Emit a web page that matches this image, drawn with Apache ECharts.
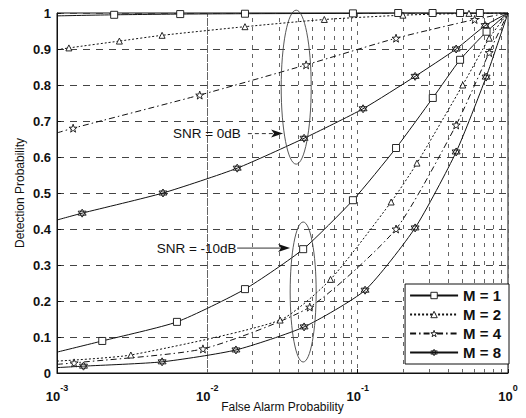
<!DOCTYPE html>
<html><head><meta charset="utf-8">
<script src="https://cdn.jsdelivr.net/npm/echarts@6/dist/echarts.min.js"></script>
<style>html,body{margin:0;padding:0;background:#fff}#c{width:526px;height:418px}</style>
</head><body><div id="c"></div>
<script>
// ---- data ----
const xTickValues = [0.001, 0.01, 0.1, 1];
const minorGridX = [0.002,0.003,0.004,0.005,0.006,0.007,0.008,0.009,
                    0.02,0.03,0.04,0.05,0.06,0.07,0.08,0.09,
                    0.2,0.3,0.4,0.5,0.6,0.7,0.8,0.9];
const legendNames = ['M = 1', 'M = 2', 'M = 4', 'M = 8'];

// SNR = 0 dB
const m1_0dB_x = [0.001, 0.0024, 0.0066, 0.0178, 0.093, 0.186, 0.315, 0.48, 0.65, 1];
const m1_0dB_y = [0.992, 0.995, 0.997, 0.998, 0.999, 1, 1, 1, 1, 1];
const m2_0dB_x = [0.001, 0.0012, 0.0026, 0.005, 0.0178, 0.06, 0.2, 0.55, 1];
const m2_0dB_y = [0.898, 0.903, 0.922, 0.938, 0.962, 0.982, 0.994, 0.999, 1];
const m4_0dB_x = [0.001, 0.00128, 0.0089, 0.0454, 0.18, 0.6, 1];
const m4_0dB_y = [0.667, 0.68, 0.772, 0.856, 0.93, 0.982, 1];
const m8_0dB_x = [0.001, 0.00147, 0.00507, 0.0158, 0.044, 0.1086, 0.241, 0.452, 0.705, 1];
const m8_0dB_y = [0.425, 0.444, 0.5, 0.569, 0.652, 0.734, 0.824, 0.9, 0.965, 1];

// SNR = -10 dB
const m1_10dB_x = [0.001, 0.002, 0.00628, 0.0178, 0.0434, 0.093, 0.18, 0.316, 0.48, 0.72, 1];
const m1_10dB_y = [0.058, 0.089, 0.142, 0.233, 0.344, 0.48, 0.625, 0.764, 0.87, 0.948, 1];
const m2_10dB_x = [0.001, 0.0031, 0.0305, 0.066, 0.167, 0.248, 0.5, 0.75, 1];
const m2_10dB_y = [0.033, 0.05, 0.147, 0.26, 0.475, 0.583, 0.8, 0.93, 1];
const m4_10dB_x = [0.001, 0.0013, 0.00935, 0.048, 0.18, 0.452, 0.75, 1];
const m4_10dB_y = [0.024, 0.028, 0.067, 0.183, 0.4, 0.689, 0.89, 1];
const m8_10dB_x = [0.001, 0.0015, 0.005, 0.0155, 0.044, 0.112, 0.241, 0.452, 0.715, 1];
const m8_10dB_y = [0.015, 0.019, 0.031, 0.064, 0.128, 0.23, 0.403, 0.614, 0.822, 1];

// annotations (data coordinates)
const ann0dB = {label: 'SNR = 0dB', text: [0.0059, 0.665], arrowFrom: [0.0186, 0.665], arrowTo: [0.0319, 0.665],
                ellipse: [0.039, 0.794], rx: 15, ry: 77};
const ann10dB = {label: 'SNR = -10dB', text: [0.0046, 0.347], arrowFrom: [0.0158, 0.347], arrowTo: [0.0355, 0.347],
                 ellipse: [0.0434, 0.225], rx: 13, ry: 70};

// ---- chart ----
const hexagram = 'path://M0,-10L8.66,5L-8.66,5Z M0,10L8.66,-5L-8.66,-5Z';
const pentagram = 'path://M0,-10L2.35,-3.24L9.51,-3.09L3.8,1.24L5.88,8.09L0,4L-5.88,8.09L-3.8,1.24L-9.51,-3.09L-2.35,-3.24Z';
const styles = {
  'M = 1': {symbol: 'rect', size: 7, type: 'solid'},
  'M = 2': {symbol: 'triangle', size: 6, type: [2, 2]},
  'M = 4': {symbol: pentagram, size: 8, type: [6, 3, 1.5, 3]},
  'M = 8': {symbol: hexagram, size: 8, type: 'solid'}
};
function mk(name, xs, ys) {
  const st = styles[name];
  return {
    name, type: 'line', smooth: 0.2,
    symbol: st.symbol, symbolSize: st.size, showAllSymbol: true,
    lineStyle: {color: '#111', width: 1, type: st.type},
    itemStyle: {color: '#fff', borderColor: '#111', borderWidth: 0.9},
    data: xs.map((x, i) => (i === 0 || i === xs.length - 1)
      ? {value: [x, ys[i]], symbol: 'none'} : [x, ys[i]]),
    z: 3
  };
}

const chart = echarts.init(document.getElementById('c'), null, {renderer: 'svg'});
const option = {
  backgroundColor: '#fff',
  animation: false,
  textStyle: {fontFamily: 'Liberation Sans, Arial, sans-serif'},
  grid: {left: 57, right: 18, top: 13, bottom: 45, outerBoundsMode: 'none', containLabel: false,
         show: true, borderColor: '#111', borderWidth: 1, backgroundColor: 'transparent'},
  xAxis: {
    type: 'log', logBase: 10, min: 0.001, max: 1,
    name: 'False Alarm Probability', nameLocation: 'middle', nameGap: 28, nameMoveOverlap: false,
    nameTextStyle: {fontSize: 12, color: '#111'},
    axisLine: {lineStyle: {color: '#111'}},
    axisTick: {inside: true, length: 4, lineStyle: {color: '#111'}},
    splitLine: {show: true, lineStyle: {color: '#666', type: [4, 5], width: 1}},
    axisLabel: {
      margin: 10,
      formatter: v => '{b|10}{s|' + Math.round(Math.log10(v)) + '}',
      rich: {
        b: {fontSize: 13, fontWeight: 'bold', color: '#111', verticalAlign: 'bottom', lineHeight: 20},
        s: {fontSize: 9, fontWeight: 'bold', color: '#111', verticalAlign: 'top', lineHeight: 20}
      }
    }
  },
  yAxis: {
    type: 'value', min: 0, max: 1, interval: 0.1,
    name: 'Detection Probability', nameLocation: 'middle', nameGap: 31, nameMoveOverlap: false,
    nameTextStyle: {fontSize: 12, color: '#111'},
    axisLine: {show: true, lineStyle: {color: '#111'}},
    axisTick: {show: true, inside: true, length: 4, lineStyle: {color: '#111'}},
    splitLine: {show: true, lineStyle: {color: '#444', type: [7, 6], width: 1}},
    axisLabel: {fontSize: 13, fontWeight: 'bold', color: '#111', margin: 6,
      formatter: v => (v === 0 ? '0' : v === 1 ? '1' : v.toFixed(1))}
  },
  legend: {
    data: legendNames, orient: 'vertical', right: 17, bottom: 54, z: 20,
    itemWidth: 48, itemHeight: 8, itemGap: 4,
    backgroundColor: '#fff', borderColor: '#111', borderWidth: 1,
    padding: [4, 8, 4, 4],
    itemStyle: {color: '#fff', borderColor: '#111', borderWidth: 0.9},
    textStyle: {fontSize: 15, fontWeight: 'bold', color: '#111'}
  },
  series: [
    mk('M = 1', m1_0dB_x, m1_0dB_y),
    mk('M = 2', m2_0dB_x, m2_0dB_y),
    mk('M = 4', m4_0dB_x, m4_0dB_y),
    mk('M = 8', m8_0dB_x, m8_0dB_y),
    mk('M = 1', m1_10dB_x, m1_10dB_y),
    mk('M = 2', m2_10dB_x, m2_10dB_y),
    mk('M = 4', m4_10dB_x, m4_10dB_y),
    mk('M = 8', m8_10dB_x, m8_10dB_y),
    {
      name: 'minorGrid', type: 'line', data: [], silent: true, z: 1,
      markLine: {
        silent: true, symbol: 'none', label: {show: false}, z: 1,
        lineStyle: {color: '#666', type: [4, 5], width: 1},
        data: minorGridX.map(x => ({xAxis: x}))
      }
    }
  ]
};
chart.setOption(option);

function annot(a) {
  const t = chart.convertToPixel({gridIndex: 0}, a.text);
  const f = chart.convertToPixel({gridIndex: 0}, a.arrowFrom);
  const to = chart.convertToPixel({gridIndex: 0}, a.arrowTo);
  const e = chart.convertToPixel({gridIndex: 0}, a.ellipse);
  return [
    {type: 'ellipse', shape: {cx: e[0], cy: e[1], rx: a.rx, ry: a.ry},
     style: {fill: 'none', stroke: '#444', lineWidth: 0.9}, z: 10},
    {type: 'text', x: t[0], y: t[1], style: {text: a.label, font: '13.5px Liberation Sans, Arial, sans-serif', fill: '#111', verticalAlign: 'middle'}, z: 11},
    {type: 'line', shape: {x1: f[0], y1: f[1], x2: to[0] - 8, y2: to[1]},
     style: {stroke: '#333', lineWidth: 1, lineDash: a.label === 'SNR = 0dB' ? [4, 3] : null}, z: 11},
    {type: 'polygon', shape: {points: [[to[0], to[1]], [to[0] - 12, to[1] - 4], [to[0] - 9, to[1]], [to[0] - 12, to[1] + 4]]},
     style: {fill: '#111'}, z: 11}
  ];
}
chart.setOption({graphic: annot(ann0dB).concat(annot(ann10dB))});
</script></body></html>
